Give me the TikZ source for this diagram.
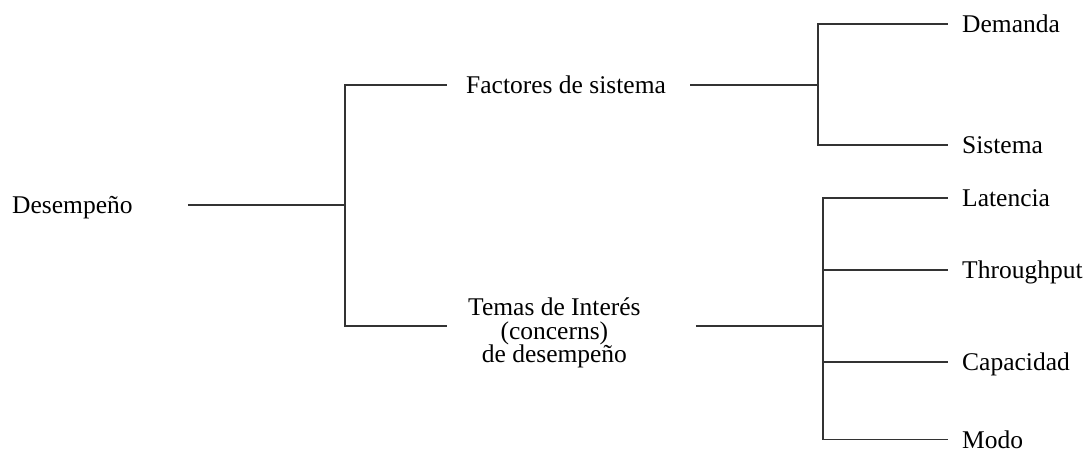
\documentclass[tikz,border=0pt]{standalone}
\usepackage{fontspec}
\setmainfont{Liberation Serif}
\begin{document}
\begin{tikzpicture}[x=1pt,y=-1pt,
  lbl/.style={anchor=west,inner sep=0pt,text height=17pt,text depth=0pt,font=\fontsize{25.5}{23.5}\selectfont},
  multi/.style={anchor=west,inner sep=0pt,align=center,font=\fontsize{25.5}{23.7}\selectfont},
  conn/.style={draw=black!80,line width=1.1pt}]
\useasboundingbox (0,0) rectangle (1090,450);
\node[lbl] (root) at (12,205) {Desempeño};
\node[lbl] (fac) at (466,85) {Factores de sistema};
\node[multi] (tem) at (468,333) {Temas de Interés\\(concerns)\\de desempeño};
\node[lbl] (dem) at (962,24) {Demanda};
\node[lbl] (sis) at (962,145) {Sistema};
\node[lbl] (lat) at (962,198) {Latencia};
\node[lbl] (thr) at (962,270) {Throughput};
\node[lbl] (cap) at (962,362) {Capacidad};
\node[lbl] (mod) at (962,439.5) {Modo};
\coordinate (j1) at (345,205);
\coordinate (j2) at (818,85);
\coordinate (j3) at (823,326);
\draw[conn,shorten <=55pt] (root.east) -- (j1);
\draw[conn,shorten >=19pt] (j1) |- (fac.west);
\draw[conn,shorten >=21pt] (j1) |- ([yshift=7pt]tem.west);
\draw[conn,shorten <=24pt] (fac.east) -- (j2);
\draw[conn,shorten >=14pt] (j2) |- (dem.west);
\draw[conn,shorten >=14pt] (j2) |- (sis.west);
\draw[conn,shorten <=55pt] ([yshift=7pt]tem.east) -- (j3);
\draw[conn,shorten >=14pt] (j3) |- (lat.west);
\draw[conn,shorten >=14pt] (j3) |- (thr.west);
\draw[conn,shorten >=14pt] (j3) |- (cap.west);
\draw[conn,shorten >=14pt] (j3) |- (mod.west);
\end{tikzpicture}
\end{document}
